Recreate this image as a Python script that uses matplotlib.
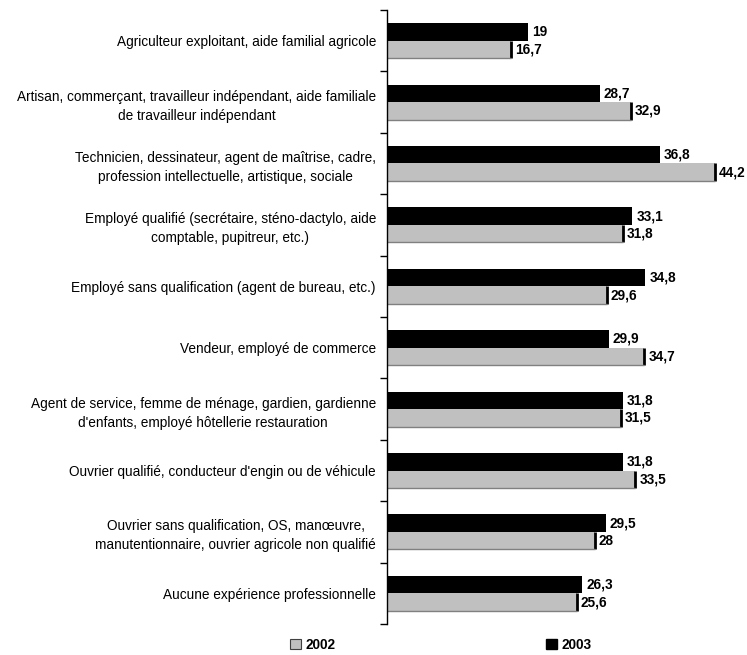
import matplotlib
matplotlib.use("Agg")
import matplotlib.pyplot as plt
from matplotlib.patches import Patch
import numpy as np

plt.rcParams['font.family'] = ['Liberation Sans', 'DejaVu Sans']

categories = [
    "Agriculteur exploitant, aide familial agricole",
    "Artisan, commerçant, travailleur indépendant, aide familiale\nde travailleur indépendant",
    "Technicien, dessinateur, agent de maîtrise, cadre,\nprofession intellectuelle, artistique, sociale",
    "Employé qualifié (secrétaire, sténo-dactylo, aide\ncomptable, pupitreur, etc.)",
    "Employé sans qualification (agent de bureau, etc.)",
    "Vendeur, employé de commerce",
    "Agent de service, femme de ménage, gardien, gardienne\nd'enfants, employé hôtellerie restauration",
    "Ouvrier qualifié, conducteur d'engin ou de véhicule",
    "Ouvrier sans qualification, OS, manœuvre,\nmanutentionnaire, ouvrier agricole non qualifié",
    "Aucune expérience professionnelle",
]
values_2003 = [19, 28.7, 36.8, 33.1, 34.8, 29.9, 31.8, 31.8, 29.5, 26.3]
values_2002 = [16.7, 32.9, 44.2, 31.8, 29.6, 34.7, 31.5, 33.5, 28, 25.6]
series_labels = ["2002", "2003"]

def fmt(v):
    s = ("%.1f" % v).rstrip('0').rstrip('.')
    return s.replace('.', ',')

fig = plt.figure(figsize=(7.47, 6.55), dpi=100)
W, H = 747, 655
ax_left, ax_right = 387, 743
ax_top, ax_bottom = 10, 624
ax = fig.add_axes([ax_left / W, 1 - ax_bottom / H, (ax_right - ax_left) / W, (ax_bottom - ax_top) / H])

n = len(categories)
y = np.arange(n)
h = 0.285
y_black = y - h / 2
y_gray = y + h / 2

ax.barh(y_black, values_2003, height=h, color='black', edgecolor='none')
ax.barh(y_gray, values_2002, height=h, color='#C0C0C0', edgecolor='none')
# shading edges of the gray bars
ax.vlines(values_2002, y_gray - h / 2, y_gray + h / 2, color='black', lw=2)
ax.hlines(y_gray + h / 2, 0, values_2002, color='#808080', lw=1)

for yi, v in zip(y_black, values_2003):
    ax.text(v + 0.55, yi, fmt(v), va='center', ha='left', fontsize=9.8, fontweight='bold')
for yi, v in zip(y_gray, values_2002):
    ax.text(v + 0.55, yi, fmt(v), va='center', ha='left', fontsize=9.8, fontweight='bold')

ax.set_xlim(0, 48)
ax.set_ylim(n - 0.5, -0.5)
ax.set_yticks(y)
ax.set_yticklabels(categories, fontsize=9.8, multialignment='center', linespacing=1.45)
ax.set_yticks(np.arange(n + 1) - 0.5, minor=True)
ax.tick_params(axis='y', which='major', length=0, pad=8)
ax.tick_params(axis='y', which='minor', length=5, width=1, direction='out')
ax.set_xticks([])
for s in ['top', 'right', 'bottom']:
    ax.spines[s].set_visible(False)
ax.spines['left'].set_linewidth(1)

handles = [Patch(facecolor='#C0C0C0', edgecolor='#404040', lw=0.8), Patch(facecolor='black', edgecolor='black')]
fig.legend(handles, series_labels, loc='center', bbox_to_anchor=(441 / W, 1 - 645 / H), ncol=2,
           frameon=False, handlelength=0.8, handleheight=0.8, handletextpad=0.3, columnspacing=15.5,
           prop={'weight': 'bold', 'size': 9.8})

fig.savefig("out.png", dpi=100)
